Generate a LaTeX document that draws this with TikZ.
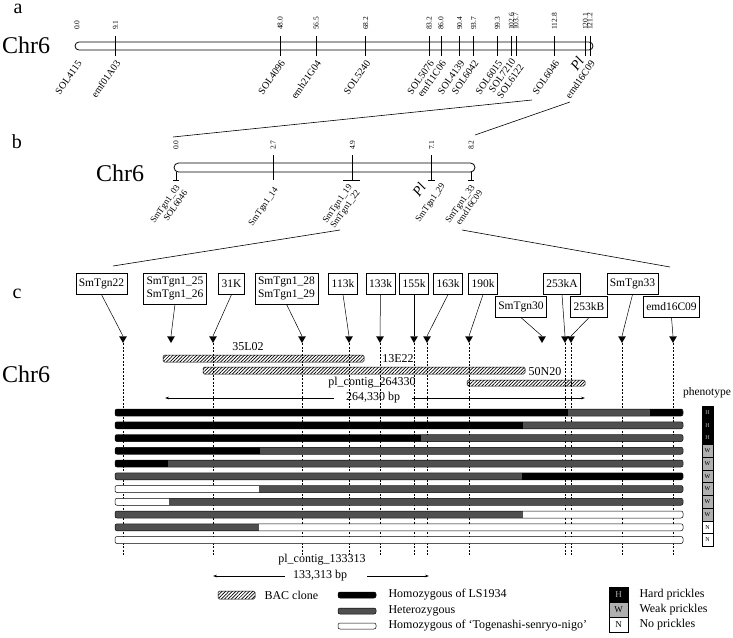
\documentclass[tikz,border=0pt]{standalone}
\usepackage{fontspec}
\setmainfont{Liberation Serif}
\usetikzlibrary{calc, patterns.meta, shapes.geometric, arrows.meta}
\definecolor{hetgray}{rgb}{0.31, 0.31, 0.31}
\definecolor{weakgray}{rgb}{0.69, 0.69, 0.69}

\begin{document}
\begin{tikzpicture}[x=1pt, y=-1pt]
% Define styles
\tikzset{
  chrom/.style={draw, line width=0.8pt, rounded corners=4pt},
  cmtick/.style={line width=0.7pt},
  cm num/.style={font=\fontsize{7.5}{8}\selectfont, rotate=90, anchor=west, inner sep=1pt},
  mk label/.style={font=\fontsize{10}{10}\selectfont, rotate=55, anchor=east, inner sep=0.5pt, align=right},
  mk label b/.style={mk label, font=\fontsize{9}{9.5}\selectfont},
  gene/.style={font=\fontsize{14}{14}\selectfont\itshape, rotate=55, inner sep=0pt},
  chr name/.style={font=\fontsize{24}{24}\selectfont},
  panel label/.style={font=\fontsize{20}{20}\selectfont, inner sep=0pt, anchor=base},
  mbox/.style={draw, line width=0.6pt, font=\fontsize{11.5}{12.5}\selectfont, inner xsep=3pt, inner ysep=4pt, minimum height=21pt, align=left, anchor=north},
  tri/.style={regular polygon, regular polygon sides=3, shape border rotate=180, fill, inner sep=0pt, minimum size=9pt},
  guide/.style={dash pattern=on 2pt off 1.5pt, line width=0.4pt},
  zoomline/.style={line width=0.6pt},
  bac/.style={draw, pattern={Lines[angle=45, distance=2.4pt, line width=0.7pt]}, rounded corners=1.5pt, line width=0.5pt},
  bpspan/.style={-{Stealth[length=4pt, width=2.5pt]}, line width=0.5pt},
  big text/.style={font=\fontsize{12}{12}\selectfont},
  pheno/.style={draw, line width=0.4pt, minimum width=11pt, minimum height=12.75pt, inner sep=0pt, font=\fontsize{6}{6}\selectfont},
  pheno H/.style={pheno, fill=black, text=white!70!black},
  pheno W/.style={pheno, fill=weakgray},
  pheno N/.style={pheno, fill=white},
}

% Parameters
\def\ascale{4.233} % px per cM, map a
\def\bscale{36}    % px per cM, map b

\useasboundingbox (0,0) rectangle (733,637);

% ---------- a: whole chromosome ----------
\node[panel label, text height=1.1ex] (pa) at (18,13) {a};
\node[chr name] (chra) at (26,45) {Chr6};
\draw[chrom] (75,42) rectangle (593,50);
\foreach \p [count=\i] in {0.0, 9.1, 48.0, 56.5, 68.2, 83.2, 86.0, 90.4, 93.7, 99.3, 102.6, 103.7, 112.8, 120.1, 121.2}
  \node[cm num] (an-\i) at ({77+\ascale*\p},31) {\p};
\foreach \p in {9.1, 48.0, 56.5, 68.2, 83.2, 86.0, 90.4, 93.7, 99.3, 102.6, 103.7, 112.8, 120.1, 121.2}
  \draw[cmtick] ({77+\ascale*\p},36) -- ({77+\ascale*\p},56);
\foreach \p/\lab [count=\i] in {0.0/SOL4115, 9.1/emf01A03, 48.0/SOL4096, 56.5/emh21G04, 68.2/SOL5240, 83.2/SOL5076, 86.0/emf11C06, 90.4/SOL4139, 93.7/SOL6042, 99.3/SOL6015, 112.8/SOL6046, 121.2/emd16C09}
  \node[mk label] (al-\i) at ({77+\ascale*\p+3},61) {\lab};
\node[mk label] (al-pair) at ({77+\ascale*103.2+4},62) {SOL7210\\SOL6122};
\node[gene] (pla) at (577,64) {Pl};

% zoom lines a -> b
\coordinate (za1) at (532,100);
\coordinate (zb1) at (173,137);
\coordinate (za2) at (570,102);
\coordinate (zb2) at (475,135);
\draw[zoomline] (za1) -- (zb1);
\draw[zoomline] (za2) -- (zb2);

% ---------- b: fine map ----------
\node[panel label] (pb) at (17,148) {b};
\node[chr name] (chrb) at (120,173) {Chr6};
\draw[chrom, rounded corners=4.5pt] (174,163) rectangle (475,172);
\foreach \p [count=\i] in {0.0, 2.7, 4.9, 7.1, 8.2}
  \node[cm num] (bn-\i) at ({176+\bscale*\p},151) {\p};
\foreach \p in {2.7, 4.9, 7.1}
  \draw[cmtick] ({176+\bscale*\p},155) -- ({176+\bscale*\p},180);
\foreach \p in {0.0, 8.2}
  \draw[cmtick] ({176+\bscale*\p},172) -- ({176+\bscale*\p},180);
% end bars of the ticks
\draw[cmtick] (173,180) -- (179,180);
\draw[cmtick] (343,180) -- (360,180);
\draw[cmtick] (428,180) -- (435,180);
\draw[cmtick] (468,180) -- (474,180);
\node[mk label b] (bl-1) at (182,188) {SmTgn1\_03\\SOL6046};
\node[mk label b] (bl-2) at (277,188) {SmTgn1\_14};
\node[mk label b] (bl-3) at (355,188) {SmTgn1\_19\\SmTgn1\_22};
\node[mk label b] (bl-4) at (444,184) {SmTgn1\_29};
\node[mk label b] (bl-5) at (477,188) {SmTgn1\_33\\emd16C09};
\node[gene] (plb) at (419,190) {Pl};

% zoom lines b -> c
\coordinate (zb3) at (340,230);
\coordinate (zc3) at (113,266);
\coordinate (zb4) at (462,230);
\coordinate (zc4) at (670,267);
\draw[zoomline] (zb3) -- (zc3);
\draw[zoomline] (zb4) -- (zc4);

% ---------- c: physical map ----------
\node[panel label] (pc) at (17,298) {c};
\node[chr name] (chrc) at (26,374) {Chr6};

% marker boxes and triangles
\coordinate (gbot) at (0,556);
\foreach \nm/\bx/\by/\tx/\txt in {
  m22/101.5/273/123/SmTgn22,
  m25/175/273/171/{SmTgn1\_25\\SmTgn1\_26},
  m31/231.5/273/213/31K,
  m28/286.5/273/302/{SmTgn1\_28\\SmTgn1\_29},
  m113/343/273/349/113k,
  m133/380.5/273/380/133k,
  m155/414/273/414/155k,
  m163/448/273/427/163k,
  m190/483/273/469/190k,
  m30/521/296/542/SmTgn30,
  m253A/562/273/565/253kA,
  m253B/589/296/571/253kB,
  m33/632.5/273/622/SmTgn33,
  memd/671.5/296/673/emd16C09}{
  \node[mbox] (\nm) at (\bx,\by) {\txt};
  \node[tri] (t-\nm) at (\tx,338.5) {};
  \draw[line width=0.5pt] (\nm.south) -- (t-\nm.north);
}
% guides under the markers
\foreach \nm in {m22, m31, m28, m113, m133, m155, m163, m190, m253A, m253B, m33, memd}
  \draw[guide] (t-\nm.south) -- (t-\nm.south |- gbot);

% BAC clones
\draw[bac] (163,355) rectangle (364,362);
\node[big text] (bac1) at (248,347) {35L02};
\draw[bac] (203,367) rectangle (525,374);
\node[big text] (bac2) at (398,359) {13E22};
\draw[bac] (467,380) rectangle (585,386);
\node[big text] (bac3) at (545,372) {50N20};

% contig 264330
\node[big text] (c264) at (372,383) {pl\_contig\_264330};
\node[big text, inner xsep=12pt] (l264) at (373,398) {264,330 bp};
\coordinate (c264L) at (165,398);
\coordinate (c264R) at (585,398);
\draw[bpspan] (l264.west) -- (c264L);
\draw[bpspan] (l264.east) -- (c264R);

% genotypes of the recombinants
\def\barL{115}
\def\barR{683}
\node[font=\fontsize{11.5}{12}\selectfont] (phtitle) at (707,393) {phenotype};
\foreach \segs/\ph [count=\r] in {
  {115/568/black, 568/650/hetgray, 650/683/black}/H,
  {115/523/black, 523/683/hetgray}/H,
  {115/421/black, 421/683/hetgray}/H,
  {115/260/black, 260/683/hetgray}/W,
  {115/168/black, 168/683/hetgray}/W,
  {115/522/hetgray, 522/683/black}/W,
  {115/259/white, 259/683/hetgray}/W,
  {115/169/white, 169/683/hetgray}/W,
  {115/523/hetgray, 523/683/white}/W,
  {115/259/hetgray, 259/683/white}/N,
  {115/683/white}/N}{
  \pgfmathsetmacro\yy{399.75+12.75*\r}
  \begin{scope}
    \clip[rounded corners=2pt] (\barL,\yy-3.5) rectangle (\barR,\yy+3.5);
    \foreach \a/\b/\c in \segs {\fill[\c] (\a,\yy-3.5) rectangle (\b,\yy+3.5);}
  \end{scope}
  \draw[rounded corners=2pt, line width=0.5pt] (\barL,\yy-3.5) rectangle (\barR,\yy+3.5);
  \node[pheno \ph] (ph-\r) at (707.5,\yy) {\ph};
}

% contig 133313
\node[big text] (c133) at (322,560) {pl\_contig\_133313};
\node[big text, inner xsep=8pt] (l133) at (320,576) {133,313 bp};
\coordinate (c133L) at (213,576);
\coordinate (c133R) at (429,576);
\draw[bpspan] (l133.west) -- (c133L);
\draw[bpspan, shorten <=12pt] (l133.east) -- (c133R);

% legend
\draw[bac] (218,591) rectangle (255,599);
\node[big text, anchor=west] (lg-bac) at (261,595) {BAC clone};
\draw[fill=black, rounded corners=2pt, line width=0.5pt] (338,592) rectangle (376,598);
\node[big text, anchor=west] (lg-hom1) at (385,595) {Homozygous of LS1934};
\draw[fill=hetgray, rounded corners=2pt, line width=0.5pt] (338,608) rectangle (376,614);
\node[big text, anchor=west] (lg-het) at (385,611) {Heterozygous};
\draw[fill=white, rounded corners=2pt, line width=0.5pt] (338,623) rectangle (376,629);
\node[big text, anchor=west] (lg-hom2) at (385,626) {Homozygous of ‘Togenashi-senryo-nigo’};

\foreach \ph/\txt [count=\i] in {H/Hard prickles, W/Weak prickles, N/No prickles}{
  \node[pheno \ph, minimum width=19pt, minimum height=15pt, font=\fontsize{9}{9}\selectfont] (lp-\i) at (618.5,{579.5+15*\i}) {\ph};
  \node[big text, anchor=west] (lt-\i) at (636,{579.5+15*\i}) {\txt};
}

\end{tikzpicture}
\end{document}
